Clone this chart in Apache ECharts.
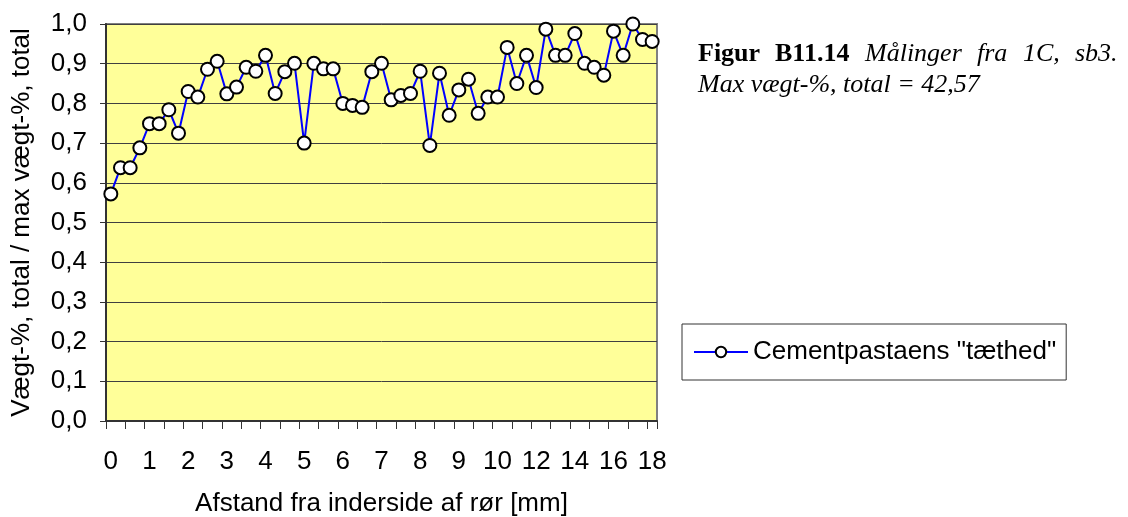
<!DOCTYPE html>
<html>
<head>
<meta charset="utf-8">
<script src="https://cdn.jsdelivr.net/npm/echarts@6/dist/echarts.min.js"></script>
<style>
  html, body { margin: 0; padding: 0; background: #ffffff; }
  #chart { width: 1128px; height: 517px; }
</style>
</head>
<body>
<div id="chart"></div>
<script>
// Distance from inner side of the pipe [mm]: 0.25 mm steps up to 10, then 0.5 mm steps
const distances = [
  0, 0.25, 0.5, 0.75, 1, 1.25, 1.5, 1.75, 2, 2.25, 2.5, 2.75, 3, 3.25, 3.5, 3.75,
  4, 4.25, 4.5, 4.75, 5, 5.25, 5.5, 5.75, 6, 6.25, 6.5, 6.75, 7, 7.25, 7.5, 7.75,
  8, 8.25, 8.5, 8.75, 9, 9.25, 9.5, 9.75, 10,
  10.5, 11, 11.5, 12, 12.5, 13, 13.5, 14, 14.5, 15, 15.5, 16, 16.5, 17, 17.5, 18
];

// Weight-% total relative to max weight-% total (max = 42,57)
const density = [
  0.572, 0.638, 0.638, 0.688, 0.749, 0.749, 0.784, 0.725, 0.830, 0.816, 0.886, 0.906,
  0.824, 0.841, 0.891, 0.881, 0.921, 0.825, 0.880, 0.901, 0.700, 0.901, 0.887, 0.887,
  0.800, 0.795, 0.790, 0.880, 0.901, 0.809, 0.820, 0.825, 0.881, 0.694, 0.876, 0.770,
  0.834, 0.861, 0.775, 0.816, 0.816, 0.941, 0.850, 0.921, 0.840, 0.987, 0.921, 0.921,
  0.976, 0.901, 0.891, 0.871, 0.982, 0.921, 1.000, 0.961, 0.956
];

const seriesName = 'Cementpastaens "tæthed"';
const xAxisTitle = 'Afstand fra inderside af rør [mm]';
const yAxisTitle = 'Vægt-%, total / max vægt-%, total';

// Figure caption: first line is justified between captionLeft and captionRight
const captionWords = [
  { text: 'Figur', bold: true },
  { text: 'B11.14', bold: true },
  { text: 'Målinger', bold: false },
  { text: 'fra', bold: false },
  { text: '1C,', bold: false },
  { text: 'sb3.', bold: false }
];
const captionLine2 = 'Max vægt-%, total = 42,57';

const sans = '"Liberation Sans", Arial, sans-serif';
const serif = '"Liberation Serif", "Times New Roman", serif';
const fs = 26;
const comma = v => String(v).replace('.', ',');

const captionLeft = 698, captionRight = 1118, captionFont = 26;
const measureCtx = document.createElement('canvas').getContext('2d');
const wordFont = w => (w.bold ? 'bold ' : 'italic ') + captionFont + 'px ' + serif;
const widths = captionWords.map(w => { measureCtx.font = wordFont(w); return measureCtx.measureText(w.text).width; });
const gap = (captionRight - captionLeft - widths.reduce((a, b) => a + b, 0)) / (captionWords.length - 1);
let cx = captionLeft;
const captionGraphics = captionWords.map((w, i) => {
  const el = {
    type: 'text', left: Math.round(cx), top: 41,
    style: { text: w.text, font: wordFont(w), fill: '#000' }
  };
  cx += widths[i] + gap;
  return el;
});
captionGraphics.push({
  type: 'text', left: captionLeft, top: 72,
  style: { text: captionLine2, font: 'italic ' + captionFont + 'px ' + serif, fill: '#000' }
});

const chart = echarts.init(document.getElementById('chart'), null, { renderer: 'canvas' });

chart.setOption({
  animation: false,
  backgroundColor: '#ffffff',
  grid: {
    left: 106, right: 471, top: 24, bottom: 96,
    outerBoundsMode: 'none',
    containLabel: false,
    show: true,
    backgroundColor: '#FFFF99',
    borderColor: '#808080',
    borderWidth: 2
  },
  legend: {
    left: 682, top: 324,
    orient: 'vertical',
    data: [seriesName],
    itemWidth: 54, itemHeight: 13,
    padding: [15, 10, 15, 11],
    borderColor: '#333',
    borderWidth: 1,
    backgroundColor: '#fff',
    textStyle: { fontFamily: sans, fontSize: fs, color: '#000' }
  },
  xAxis: {
    type: 'category',
    data: distances,
    boundaryGap: true,
    name: xAxisTitle,
    nameLocation: 'middle',
    nameGap: 70,
    nameTextStyle: { fontFamily: sans, fontSize: fs, color: '#000' },
    axisLine: { show: true, lineStyle: { color: '#333', width: 2 } },
    axisTick: { show: true, interval: 1, length: 8, inside: false, lineStyle: { color: '#333', width: 1 } },
    axisLabel: {
      interval: 3,
      margin: 28,
      fontFamily: sans, fontSize: fs, color: '#000',
      formatter: v => comma(v)
    },
    splitLine: { show: false }
  },
  yAxis: {
    type: 'value',
    min: 0, max: 1, interval: 0.1,
    name: yAxisTitle,
    nameLocation: 'middle',
    nameGap: 71,
    nameRotate: 90,
    nameTextStyle: { fontFamily: sans, fontSize: fs, color: '#000' },
    axisLine: { show: true, lineStyle: { color: '#333', width: 2 } },
    axisTick: { show: true, length: 6, lineStyle: { color: '#333', width: 1 } },
    axisLabel: {
      margin: 19,
      fontFamily: sans, fontSize: fs, color: '#000',
      formatter: v => v.toFixed(1).replace('.', ',')
    },
    splitLine: { show: true, lineStyle: { color: '#404040', width: 1 } }
  },
  series: [{
    name: seriesName,
    type: 'line',
    data: density,
    clip: false,
    symbol: 'circle',
    symbolSize: 13,
    showAllSymbol: true,
    lineStyle: { color: '#0000FF', width: 2 },
    itemStyle: { color: '#ffffff', borderColor: '#000000', borderWidth: 2 },
    z: 3
  }],
  graphic: captionGraphics
});
</script>
</body>
</html>
